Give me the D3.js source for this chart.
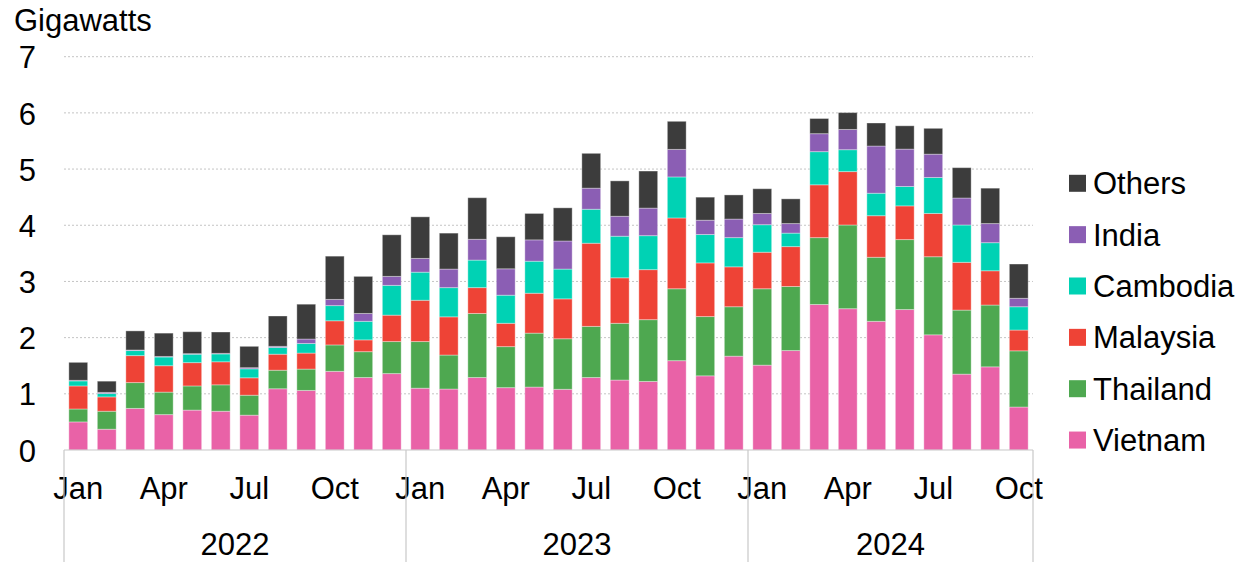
<!DOCTYPE html>
<html>
<head>
<meta charset="utf-8">
<script src="https://cdn.jsdelivr.net/npm/d3@7"></script>
<style>
  html, body { margin: 0; padding: 0; background: #fff; }
  svg { display: block; font-family: "Liberation Sans", Arial, sans-serif; }
</style>
</head>
<body>
<svg id="chart" width="1254" height="562"></svg>
<script>
// Monthly solar module imports by origin, gigawatts (Jan 2022 – Oct 2024)
const years = ["2022", "2023", "2024"];
const monthsPerYear = [12, 12, 10];
const monthNames = ["Jan","Feb","Mar","Apr","May","Jun","Jul","Aug","Sep","Oct","Nov","Dec"];
const shownMonths = ["Jan", "Apr", "Jul", "Oct"];
const yTicks = [0, 1, 2, 3, 4, 5, 6, 7];

const seriesNames = ["Vietnam", "Thailand", "Malaysia", "Cambodia", "India", "Others"];

const vietnam  = [0.50,0.37,0.74,0.63,0.71,0.69,0.62,1.09,1.06,1.40,1.29,1.36,
                  1.10,1.085,1.29,1.11,1.12,1.08,1.29,1.245,1.22,1.59,1.32,1.67,
                  1.51,1.77,2.59,2.515,2.29,2.50,2.05,1.35,1.48,0.765];
const thailand = [0.23,0.32,0.46,0.40,0.43,0.47,0.355,0.33,0.38,0.47,0.46,0.57,
                  0.83,0.605,1.14,0.73,0.96,0.90,0.91,1.01,1.10,1.28,1.055,0.88,
                  1.36,1.14,1.19,1.49,1.14,1.245,1.39,1.14,1.10,1.00];
const malaysia = [0.41,0.255,0.48,0.47,0.415,0.41,0.31,0.285,0.285,0.43,0.21,0.47,
                  0.735,0.68,0.46,0.415,0.71,0.71,1.48,0.81,0.89,1.26,0.955,0.71,
                  0.65,0.71,0.94,0.95,0.74,0.60,0.77,0.85,0.61,0.37];
const cambodia = [0.09,0.06,0.09,0.155,0.15,0.14,0.16,0.12,0.17,0.27,0.33,0.53,
                  0.50,0.52,0.49,0.50,0.57,0.53,0.605,0.74,0.605,0.73,0.505,0.52,
                  0.49,0.24,0.59,0.39,0.40,0.345,0.64,0.665,0.50,0.415];
const india    = [0.01,0.02,0.01,0.01,0.01,0.01,0.02,0.02,0.08,0.11,0.14,0.16,
                  0.245,0.33,0.37,0.47,0.38,0.50,0.375,0.355,0.49,0.49,0.255,0.33,
                  0.20,0.17,0.32,0.36,0.84,0.665,0.415,0.48,0.34,0.15];
const others   = [0.32,0.20,0.34,0.415,0.39,0.38,0.38,0.54,0.62,0.77,0.66,0.74,
                  0.74,0.64,0.74,0.57,0.47,0.59,0.62,0.63,0.66,0.50,0.41,0.43,
                  0.44,0.44,0.27,0.30,0.41,0.415,0.46,0.54,0.63,0.61];

const colors = {
  Vietnam:  "#E962A7",
  Thailand: "#4EA850",
  Malaysia: "#EE4336",
  Cambodia: "#00D2B4",
  India:    "#8B5EB4",
  Others:   "#3C3C3C"
};

// ---- build rows ----
const valuesBySeries = { Vietnam: vietnam, Thailand: thailand, Malaysia: malaysia,
                         Cambodia: cambodia, India: india, Others: others };
const rows = [];
years.forEach((yr, yi) => {
  for (let m = 0; m < monthsPerYear[yi]; m++) {
    const row = { key: yr + "-" + (m + 1), year: yr, month: monthNames[m] };
    seriesNames.forEach(s => { row[s] = valuesBySeries[s][rows.length]; });
    rows.push(row);
  }
});

// ---- layout ----
const plotLeft = 64, plotRight = 1033, plotTop = 56.7, plotBottom = 450;
const svg = d3.select("#chart");
const fontSize = 31;

const x = d3.scaleBand()
  .domain(rows.map(d => d.key))
  .range([plotLeft, plotRight])
  .paddingInner(0.34)
  .paddingOuter(0.17);

const y = d3.scaleLinear().domain([0, 7]).range([plotBottom, plotTop]);

// gridlines
svg.append("g")
  .selectAll("line")
  .data(yTicks.filter(t => t > 0))
  .join("line")
  .attr("x1", plotLeft).attr("x2", plotRight)
  .attr("y1", d => y(d)).attr("y2", d => y(d))
  .attr("stroke", "#c4c4c4")
  .attr("stroke-width", 1)
  .attr("stroke-dasharray", "2,2");

// stacked bars
const stack = d3.stack().keys(seriesNames)(rows);
svg.append("g")
  .selectAll("g")
  .data(stack)
  .join("g")
  .attr("fill", d => colors[d.key])
  .selectAll("rect")
  .data(d => d)
  .join("rect")
  .attr("x", d => x(d.data.key))
  .attr("width", x.bandwidth())
  .attr("y", d => y(d[1]))
  .attr("height", d => Math.max(0, y(d[0]) - y(d[1])))
  .attr("stroke", "rgba(255,255,255,0.35)")
  .attr("stroke-width", 1);

// y axis labels
const yAxis = d3.axisLeft(y).tickValues(yTicks).tickSize(0).tickPadding(0).tickFormat(d3.format("d"));
const gy = svg.append("g").attr("transform", "translate(36,0)").call(yAxis);
gy.select(".domain").remove();
gy.selectAll("text")
  .attr("font-size", fontSize)
  .attr("font-family", "Liberation Sans, Arial, sans-serif")
  .attr("fill", "#000")
  .attr("dy", "0.36em");

// unit label
svg.append("text")
  .attr("x", 14).attr("y", 31)
  .attr("font-size", fontSize)
  .attr("fill", "#000")
  .text("Gigawatts");

// category axis: baseline + month labels
svg.append("line")
  .attr("x1", plotLeft).attr("x2", plotRight)
  .attr("y1", plotBottom).attr("y2", plotBottom)
  .attr("stroke", "#c8c8c8").attr("stroke-width", 1.2);

const xAxis = d3.axisBottom(x)
  .tickValues(rows.filter(d => shownMonths.includes(d.month)).map(d => d.key))
  .tickFormat(k => rows.find(r => r.key === k).month)
  .tickSize(0).tickPadding(0);
const gx = svg.append("g").attr("transform", `translate(0,${plotBottom})`).call(xAxis);
gx.select(".domain").remove();
gx.selectAll("text")
  .attr("font-size", fontSize)
  .attr("font-family", "Liberation Sans, Arial, sans-serif")
  .attr("fill", "#000")
  .attr("dy", null)
  .attr("y", 49);

// year groups: dividers and labels
const yearBounds = years.map(yr => {
  const keys = rows.filter(r => r.year === yr).map(r => r.key);
  const x0 = x(keys[0]) - x.step() * x.paddingInner() / 2;
  const x1 = x(keys[keys.length - 1]) + x.bandwidth() + x.step() * x.paddingInner() / 2;
  return { yr, x0, x1 };
});
const dividers = [yearBounds[0].x0, ...yearBounds.map(b => b.x1)];
svg.append("g")
  .selectAll("line")
  .data(dividers)
  .join("line")
  .attr("x1", d => d).attr("x2", d => d)
  .attr("y1", plotBottom).attr("y2", 562)
  .attr("stroke", "#c8c8c8").attr("stroke-width", 1.2);

svg.append("g")
  .selectAll("text")
  .data(yearBounds)
  .join("text")
  .attr("x", d => (d.x0 + d.x1) / 2)
  .attr("y", 555)
  .attr("text-anchor", "middle")
  .attr("font-size", fontSize)
  .attr("fill", "#000")
  .text(d => d.yr);

// legend (top item is the top of the stack)
const legendItems = seriesNames.slice().reverse();
const lg = svg.append("g")
  .selectAll("g")
  .data(legendItems)
  .join("g")
  .attr("transform", (d, i) => `translate(1069,${183.3 + i * 51.35})`);
lg.append("rect")
  .attr("x", 0).attr("y", -8.5)
  .attr("width", 17).attr("height", 17)
  .attr("fill", d => colors[d]);
lg.append("text")
  .attr("x", 24).attr("y", 11)
  .attr("font-size", fontSize)
  .attr("fill", "#000")
  .text(d => d);
</script>
</body>
</html>
